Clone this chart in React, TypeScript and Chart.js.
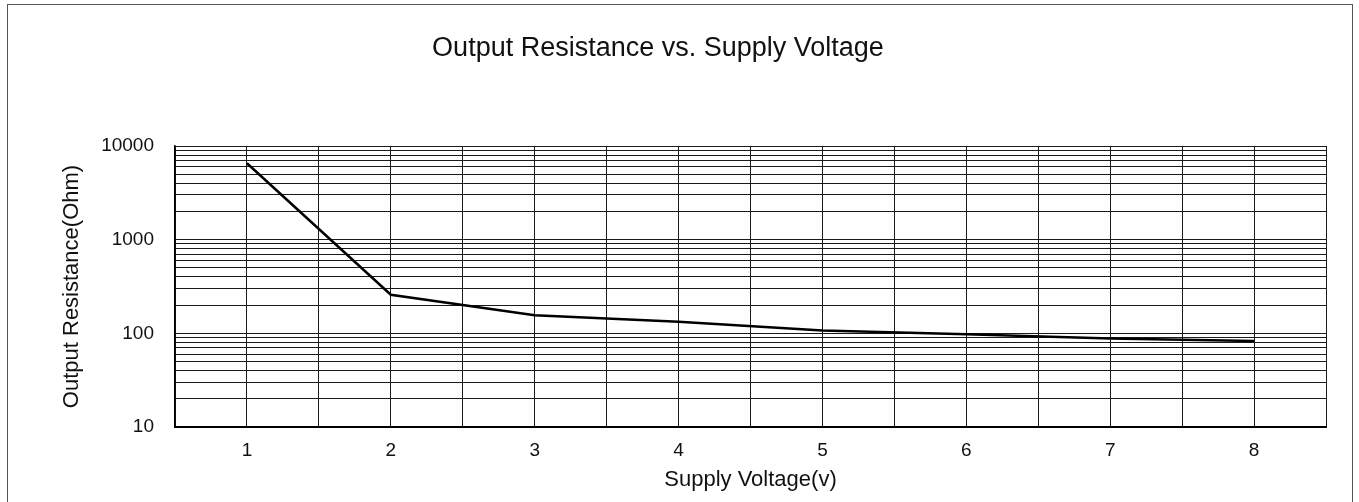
import { useEffect, useRef } from 'react';
import { Chart, registerables } from 'chart.js';

Chart.register(...registerables);

const chartTitle = 'Output Resistance vs. Supply Voltage';
const xAxisTitle = 'Supply Voltage(v)';
const yAxisTitle = 'Output Resistance(Ohm)';

const supplyVoltage = [1, 2, 3, 4, 5, 6, 7, 8];
const outputResistance = [6550, 258, 156, 133, 107, 97.5, 88, 83];

const xGridTicks = [0.5, 1, 1.5, 2, 2.5, 3, 3.5, 4, 4.5, 5, 5.5, 6, 6.5, 7, 7.5, 8, 8.5];
const xLabelTicks = [1, 2, 3, 4, 5, 6, 7, 8];
const yMajorTicks = [10, 100, 1000, 10000];
const yMinorMultipliers = [1, 2, 3, 4, 5, 6, 7, 8, 9];

const FONT = '"Liberation Sans", Arial, sans-serif';

const yGridValues: number[] = [];
yMajorTicks.slice(0, -1).forEach((d) => yMinorMultipliers.forEach((m) => yGridValues.push(d * m)));
yGridValues.push(yMajorTicks[yMajorTicks.length - 1]);

const framePlugin = {
  id: 'frameAndTitle',
  beforeDraw(chart: any) {
    const ctx = chart.ctx;
    ctx.save();
    ctx.fillStyle = '#ffffff';
    ctx.fillRect(0, 0, chart.width, chart.height);
    ctx.strokeStyle = '#555555';
    ctx.lineWidth = 1;
    ctx.strokeRect(7.5, 4.5, 1345, 700);
    ctx.restore();
  },
  afterDraw(chart: any) {
    const ctx = chart.ctx;
    ctx.save();
    ctx.fillStyle = '#111111';
    ctx.font = `27px ${FONT}`;
    ctx.textAlign = 'center';
    ctx.textBaseline = 'alphabetic';
    ctx.fillText(chartTitle, 658, 56);
    ctx.restore();
  },
};

export default function App() {
  const canvasRef = useRef<HTMLCanvasElement | null>(null);

  useEffect(() => {
    const canvas = canvasRef.current;
    if (!canvas) return;
    const chart = new Chart(canvas, {
      type: 'line',
      data: {
        datasets: [
          {
            data: supplyVoltage.map((v, i) => ({ x: v, y: outputResistance[i] })),
            borderColor: '#000000',
            borderWidth: 2.5,
            pointRadius: 0,
            tension: 0,
            fill: false,
          },
        ],
      },
      options: {
        responsive: false,
        animation: false,
        devicePixelRatio: 1,
        layout: { padding: { top: 146, right: 33, left: 0, bottom: 0 } },
        plugins: {
          legend: { display: false },
          title: { display: false },
          tooltip: { enabled: false },
        },
        scales: {
          x: {
            type: 'linear',
            min: 0.5,
            max: 8.5,
            afterBuildTicks: (scale: any) => {
              scale.ticks = xGridTicks.map((v) => ({ value: v }));
            },
            afterFit: (scale: any) => {
              scale.height = 75;
            },
            ticks: {
              autoSkip: false,
              maxRotation: 0,
              padding: 12,
              color: '#111111',
              font: { family: FONT, size: 19 },
              callback: (value: any) => (xLabelTicks.includes(Number(value)) ? String(value) : ''),
            },
            grid: { color: '#1a1a1a', lineWidth: 1, drawTicks: false },
            border: { display: true, color: '#000000', width: 2 },
            title: {
              display: true,
              text: xAxisTitle,
              color: '#111111',
              font: { family: FONT, size: 22 },
              padding: { top: 0, bottom: 9 },
            },
          },
          y: {
            type: 'logarithmic',
            min: 10,
            max: 10000,
            afterBuildTicks: (scale: any) => {
              scale.ticks = yGridValues.map((v) => ({ value: v, major: yMajorTicks.includes(v) }));
            },
            afterFit: (scale: any) => {
              scale.width = 175;
            },
            ticks: {
              autoSkip: false,
              padding: 21,
              color: '#111111',
              font: { family: FONT, size: 19 },
              callback: (value: any) => (yMajorTicks.includes(Number(value)) ? String(value) : ''),
            },
            grid: { color: '#1a1a1a', lineWidth: 1, drawTicks: false },
            border: { display: true, color: '#000000', width: 1.5 },
            title: {
              display: true,
              text: yAxisTitle,
              color: '#111111',
              font: { family: FONT, size: 22 },
              padding: { top: 59, bottom: 0 },
            },
          },
        },
      },
      plugins: [framePlugin],
    });
    return () => chart.destroy();
  }, []);

  return (
    <div
      style={{
        position: 'fixed',
        left: 0,
        top: 0,
        width: 1359,
        height: 502,
        overflow: 'hidden',
        background: '#ffffff',
      }}
    >
      <canvas ref={canvasRef} width={1359} height={502} style={{ display: 'block' }} />
    </div>
  );
}
